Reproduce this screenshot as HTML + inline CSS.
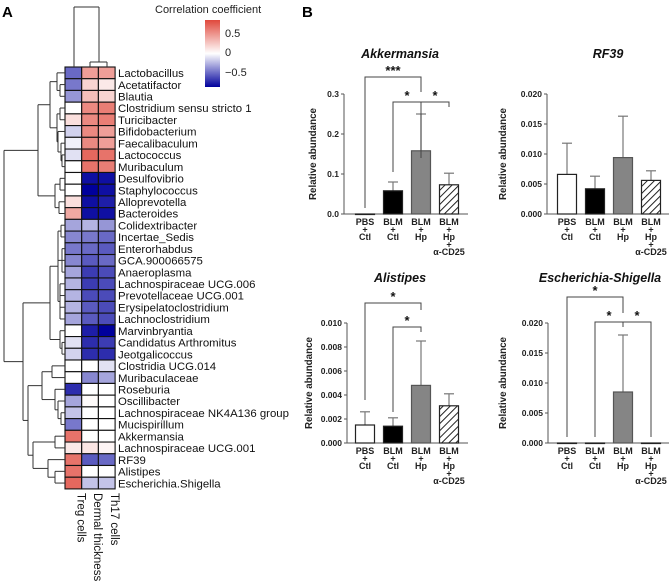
<!DOCTYPE html>
<html><head><meta charset="utf-8">
<style>
html,body{margin:0;padding:0;background:#fff;}
svg{display:block;font-family:"Liberation Sans",Arial,sans-serif;}
</style></head>
<body>
<svg id="fig" width="669" height="585" viewBox="0 0 669 585" xmlns="http://www.w3.org/2000/svg">
<defs>
<linearGradient id="cgrad" x1="0" y1="0" x2="0" y2="1">
<stop offset="0" stop-color="#e0483c"/><stop offset="0.5" stop-color="#ffffff"/><stop offset="1" stop-color="#00009c"/>
</linearGradient>
<pattern id="hatch" patternUnits="userSpaceOnUse" width="5" height="5" patternTransform="rotate(45)">
<rect width="5" height="5" fill="#fff"/><line x1="0" y1="0" x2="0" y2="5" stroke="#222" stroke-width="2"/>
</pattern>
</defs>
<text x="2" y="17" font-size="15" font-weight="bold">A</text>
<text x="302" y="17" font-size="15" font-weight="bold">B</text>
<g>
<text x="155" y="13" font-size="11" fill="#222">Correlation coefficient</text>
<rect x="205" y="20" width="15" height="67" fill="url(#cgrad)"/>
<text x="225" y="37" font-size="11" fill="#222">0.5</text>
<text x="225" y="56" font-size="11" fill="#222">0</text>
<text x="225" y="76" font-size="11" fill="#222">−0.5</text>
</g>
<g id="heat"></g>
<g id="dendro" stroke="#333" stroke-width="1" fill="none"></g>
<g id="bars"></g>
</svg>
<script>
// ---------- heatmap data ----------
const taxa = ["Lactobacillus","Acetatifactor","Blautia","Clostridium sensu stricto 1","Turicibacter","Bifidobacterium","Faecalibaculum","Lactococcus","Muribaculum","Desulfovibrio","Staphylococcus","Alloprevotella","Bacteroides","Colidextribacter","Incertae_Sedis","Enterorhabdus","GCA.900066575","Anaeroplasma","Lachnospiraceae UCG.006","Prevotellaceae UCG.001","Erysipelatoclostridium","Lachnoclostridium","Marvinbryantia","Candidatus Arthromitus","Jeotgalicoccus","Clostridia UCG.014","Muribaculaceae","Roseburia","Oscillibacter","Lachnospiraceae NK4A136 group","Mucispirillum","Akkermansia","Lachnospiraceae UCG.001","RF39","Alistipes","Escherichia.Shigella"];
const heatColumns = ["Treg cells","Dermal thickness","Th17 cells"];
const tregValues = [-0.5,-0.45,-0.35,0,0.15,-0.15,-0.05,-0.1,0,0,0,0.15,0.4,-0.3,-0.4,-0.45,-0.4,-0.3,-0.25,-0.25,-0.25,-0.3,0,-0.1,-0.15,0,0,-0.7,-0.3,-0.2,-0.45,0.65,0.1,0.65,0.65,0.7];
const dermalValues = [0.45,0.2,0.3,0.55,0.55,0.55,0.55,0.7,0.65,-0.8,-0.85,-0.8,-0.8,-0.25,-0.45,-0.5,-0.55,-0.65,-0.65,-0.6,-0.55,-0.55,-0.75,-0.7,-0.7,0,-0.4,0,0.02,0,0,0,0.12,-0.55,0,-0.2];
const th17Values = [0.45,0.1,0.2,0.6,0.6,0.45,0.45,0.65,0.6,-0.8,-0.8,-0.75,-0.8,-0.35,-0.5,-0.55,-0.5,-0.6,-0.6,-0.6,-0.6,-0.6,-0.85,-0.65,-0.7,-0.1,-0.3,0,0,0,0,0,0.05,-0.5,0,-0.2];

const NS="http://www.w3.org/2000/svg";
function mk(tag, attrs, parent){const e=document.createElementNS(NS,tag);for(const k in attrs)e.setAttribute(k,attrs[k]);if(parent)parent.appendChild(e);return e;}

const hx0=65, hcw=16.7, hy0=67, hrh=11.72;
function colScale(v){
  let t=Math.min(Math.abs(v)/0.85,1);
  let r,g,b;
  if(v>=0){r=255+(224-255)*t;g=255+(72-255)*t;b=255+(60-255)*t;}
  else{r=255*(1-t);g=255*(1-t);b=255+(156-255)*t;}
  return `rgb(${Math.round(r)},${Math.round(g)},${Math.round(b)})`;
}
const heat=document.getElementById('heat');
const series=[tregValues,dermalValues,th17Values];
series.forEach((vals,c)=>{
  vals.forEach((v,i)=>{
    const r=mk('rect',{x:hx0+c*hcw,y:hy0+i*hrh,width:hcw,height:hrh,fill:colScale(v),stroke:'#111','stroke-width':1.1},heat);
    
    
  });
});
taxa.forEach((t,i)=>{
  const tx=mk('text',{x:118,y:hy0+(i+0.5)*hrh+4.2,'font-size':11.4,fill:'#111'},heat);
  tx.textContent=t;
  
  
});
heatColumns.forEach((c,j)=>{
  const cx=hx0+(j+0.5)*hcw+4;
  const tx=mk('text',{x:cx,y:493,'font-size':11.5,fill:'#111',transform:`rotate(90 ${cx} 493)`},heat);
  tx.textContent=c;
  
  
});

// ---------- dendrograms ----------
const dg=document.getElementById('dendro');
function line(x1,y1,x2,y2){mk('line',{x1,y1,x2,y2},dg);}
const tree={x:4,c:[
 {x:38,c:[
   {x:50,c:[{x:57,c:[0,{x:60,c:[1,2]}]},{x:57,c:[{x:60,c:[3,4]},{x:58,c:[5,{x:61,c:[6,{x:62,c:[7,8]}]}]}]}]},
   {x:55,c:[{x:60,c:[9,10]},{x:59,c:[11,12]}]}]},
 {x:23,c:[
   {x:50,c:[{x:58,c:[{x:61,c:[13,14]},{x:62,c:[15,16,17]},{x:60,c:[18,19,20,21]}]},{x:60,c:[22,{x:62,c:[23,24]}]}]},
   {x:28,c:[
     {x:42,c:[{x:52,c:[25,26]},{x:55,c:[27,{x:58,c:[28,{x:61,c:[29,30]}]}]}]},
     {x:33,c:[{x:55,c:[31,32]},{x:48,c:[33,{x:55,c:[34,35]}]}]}]}]}]};
function draw(n){
  if(typeof n==='number') return {x:hx0,y:hy0+(n+0.5)*hrh};
  const ch=n.c.map(draw);
  const ys=ch.map(c=>c.y);
  line(n.x,Math.min(...ys),n.x,Math.max(...ys));
  ch.forEach(c=>line(n.x,c.y,c.x,c.y));
  return {x:n.x,y:(Math.min(...ys)+Math.max(...ys))/2};
}
draw(tree);
line(74,7,99,7);line(74,7,74,67);line(99,7,99,62);line(90,62,107,62);line(90,62,90,67);line(107,62,107,67);

// ---------- bar charts ----------
const groups=[["PBS","+","Ctl"],["BLM","+","Ctl"],["BLM","+","Hp"],["BLM","+","Hp","+","α-CD25"]];
const akkMeans=[0,0.058,0.158,0.073];
const akkErr=[0,0.080,0.250,0.102];
const akkTicks=["0.0","0.1","0.2","0.3"];
const rf39Means=[0.0066,0.0042,0.0094,0.0056];
const rf39Err=[0.0118,0.0063,0.0163,0.0072];
const rf39Ticks=["0.000","0.005","0.010","0.015","0.020"];
const aliMeans=[0.0015,0.0014,0.0048,0.0031];
const aliErr=[0.0026,0.0021,0.0085,0.0041];
const aliTicks=["0.000","0.002","0.004","0.006","0.008","0.010"];
const escMeans=[0,0,0.0085,0];
const escErr=[0,0,0.018,0];
const escTicks=["0.000","0.005","0.010","0.015","0.020"];

const fills=["#fff","#000","#858585","url(#hatch)"];
const bg=document.getElementById('bars');

function panel(o){
  const g=mk('g',{},bg);
  
  
  const ymax=parseFloat(o.ticks[o.ticks.length-1]);
  const yS=v=>o.y0-v/ymax*120;
  const xS=i=>o.bx0+i*28;
  const t=mk('text',{x:o.tx,y:o.ty,'font-size':12.5,'font-weight':'bold','font-style':'italic','text-anchor':'middle',fill:'#111'},g);
  t.textContent=o.title;
  
  
  mk('line',{x1:o.ax,y1:o.y0-120,x2:o.ax,y2:o.y0,stroke:'#555','stroke-width':1},g);
  mk('line',{x1:o.ax,y1:o.y0,x2:o.bx0+3*28+19,y2:o.y0,stroke:'#555','stroke-width':1},g);
  o.ticks.forEach(tk=>{
    const y=yS(parseFloat(tk));
    mk('line',{x1:o.ax-3,y1:y,x2:o.ax,y2:y,stroke:'#555'},g);
    const l=mk('text',{x:o.ax-5,y:y+3,'font-size':8.5,'font-weight':'bold','text-anchor':'end',fill:'#222'},g);
    l.textContent=tk;
    
    
  });
  const yl=mk('text',{x:o.ylx,y:o.y0-60,'font-size':9.8,'font-weight':'bold','text-anchor':'middle',fill:'#222',transform:`rotate(-90 ${o.ylx} ${o.y0-60})`},g);
  yl.textContent="Relative abundance";
  
  
  o.means.forEach((m,i)=>{
    const cx=xS(i), top=yS(m);
    const e=yS(o.err[i]);
    if(o.err[i]>m){
      mk('line',{x1:cx,y1:top,x2:cx,y2:e,stroke:'#777','stroke-width':1.2},g);
      mk('line',{x1:cx-5,y1:e,x2:cx+5,y2:e,stroke:'#777','stroke-width':1.2},g);
    }
    const r=mk('rect',{x:cx-9.5,y:top,width:19,height:Math.max(o.y0-top,0.5),fill:fills[i],stroke:i==2?'#555':'#222','stroke-width':1.2},g);
    
    
  });
  groups.forEach((lines,i)=>{
    lines.forEach((s,k)=>{
      const tx=mk('text',{x:xS(i),y:o.y0+11+k*7.5+(s=="+"?0:0),'font-size':s=="+"?9:9,'font-weight':'bold','text-anchor':'middle',fill:'#222'},g);
      tx.textContent=s;
      
      
    });
  });
  (o.brackets||[]).forEach(b=>{
    const x1=xS(b[0]),x2=xS(b[1]);
    const p=mk('path',{d:`M${x1} ${b[3]} L${x1} ${b[2]} L${x2} ${b[2]} L${x2} ${b[4]}`,fill:'none',stroke:'#444','stroke-width':1},g);
    
    
    const s=mk('text',{x:(x1+x2)/2,y:b[2]-2,'font-size':13,'font-weight':'bold','text-anchor':'middle',fill:'#111'},g);
    s.textContent=b[5];
    
    
  });
}
panel({name:'akkermansia-chart',title:'Akkermansia',tx:400,ty:58,ax:344,y0:214,bx0:365,ylx:316,ticks:akkTicks,means:akkMeans,err:akkErr,
  brackets:[[0,2,77,208,92,'***'],[1,2,102,172,107,'*'],[2,3,102,158,107,'*']]});
panel({name:'rf39-chart',title:'RF39',tx:608,ty:58,ax:547,y0:214,bx0:567,ylx:506,ticks:rf39Ticks,means:rf39Means,err:rf39Err});
panel({name:'alistipes-chart',title:'Alistipes',tx:400,ty:282,ax:347,y0:443,bx0:365,ylx:312,ticks:aliTicks,means:aliMeans,err:aliErr,
  brackets:[[0,2,303,400,310,'*'],[1,2,327,412,332,'*']]});
panel({name:'escherichia-shigella-chart',title:'Escherichia-Shigella',tx:600,ty:282,ax:548,y0:443,bx0:567,ylx:506,ticks:escTicks,means:escMeans,err:escErr,
  brackets:[[0,2,297,437,313,'*'],[1,2,322,437,327,'*'],[3,2,322,437,327,'*']]});
</script>
</body></html>
